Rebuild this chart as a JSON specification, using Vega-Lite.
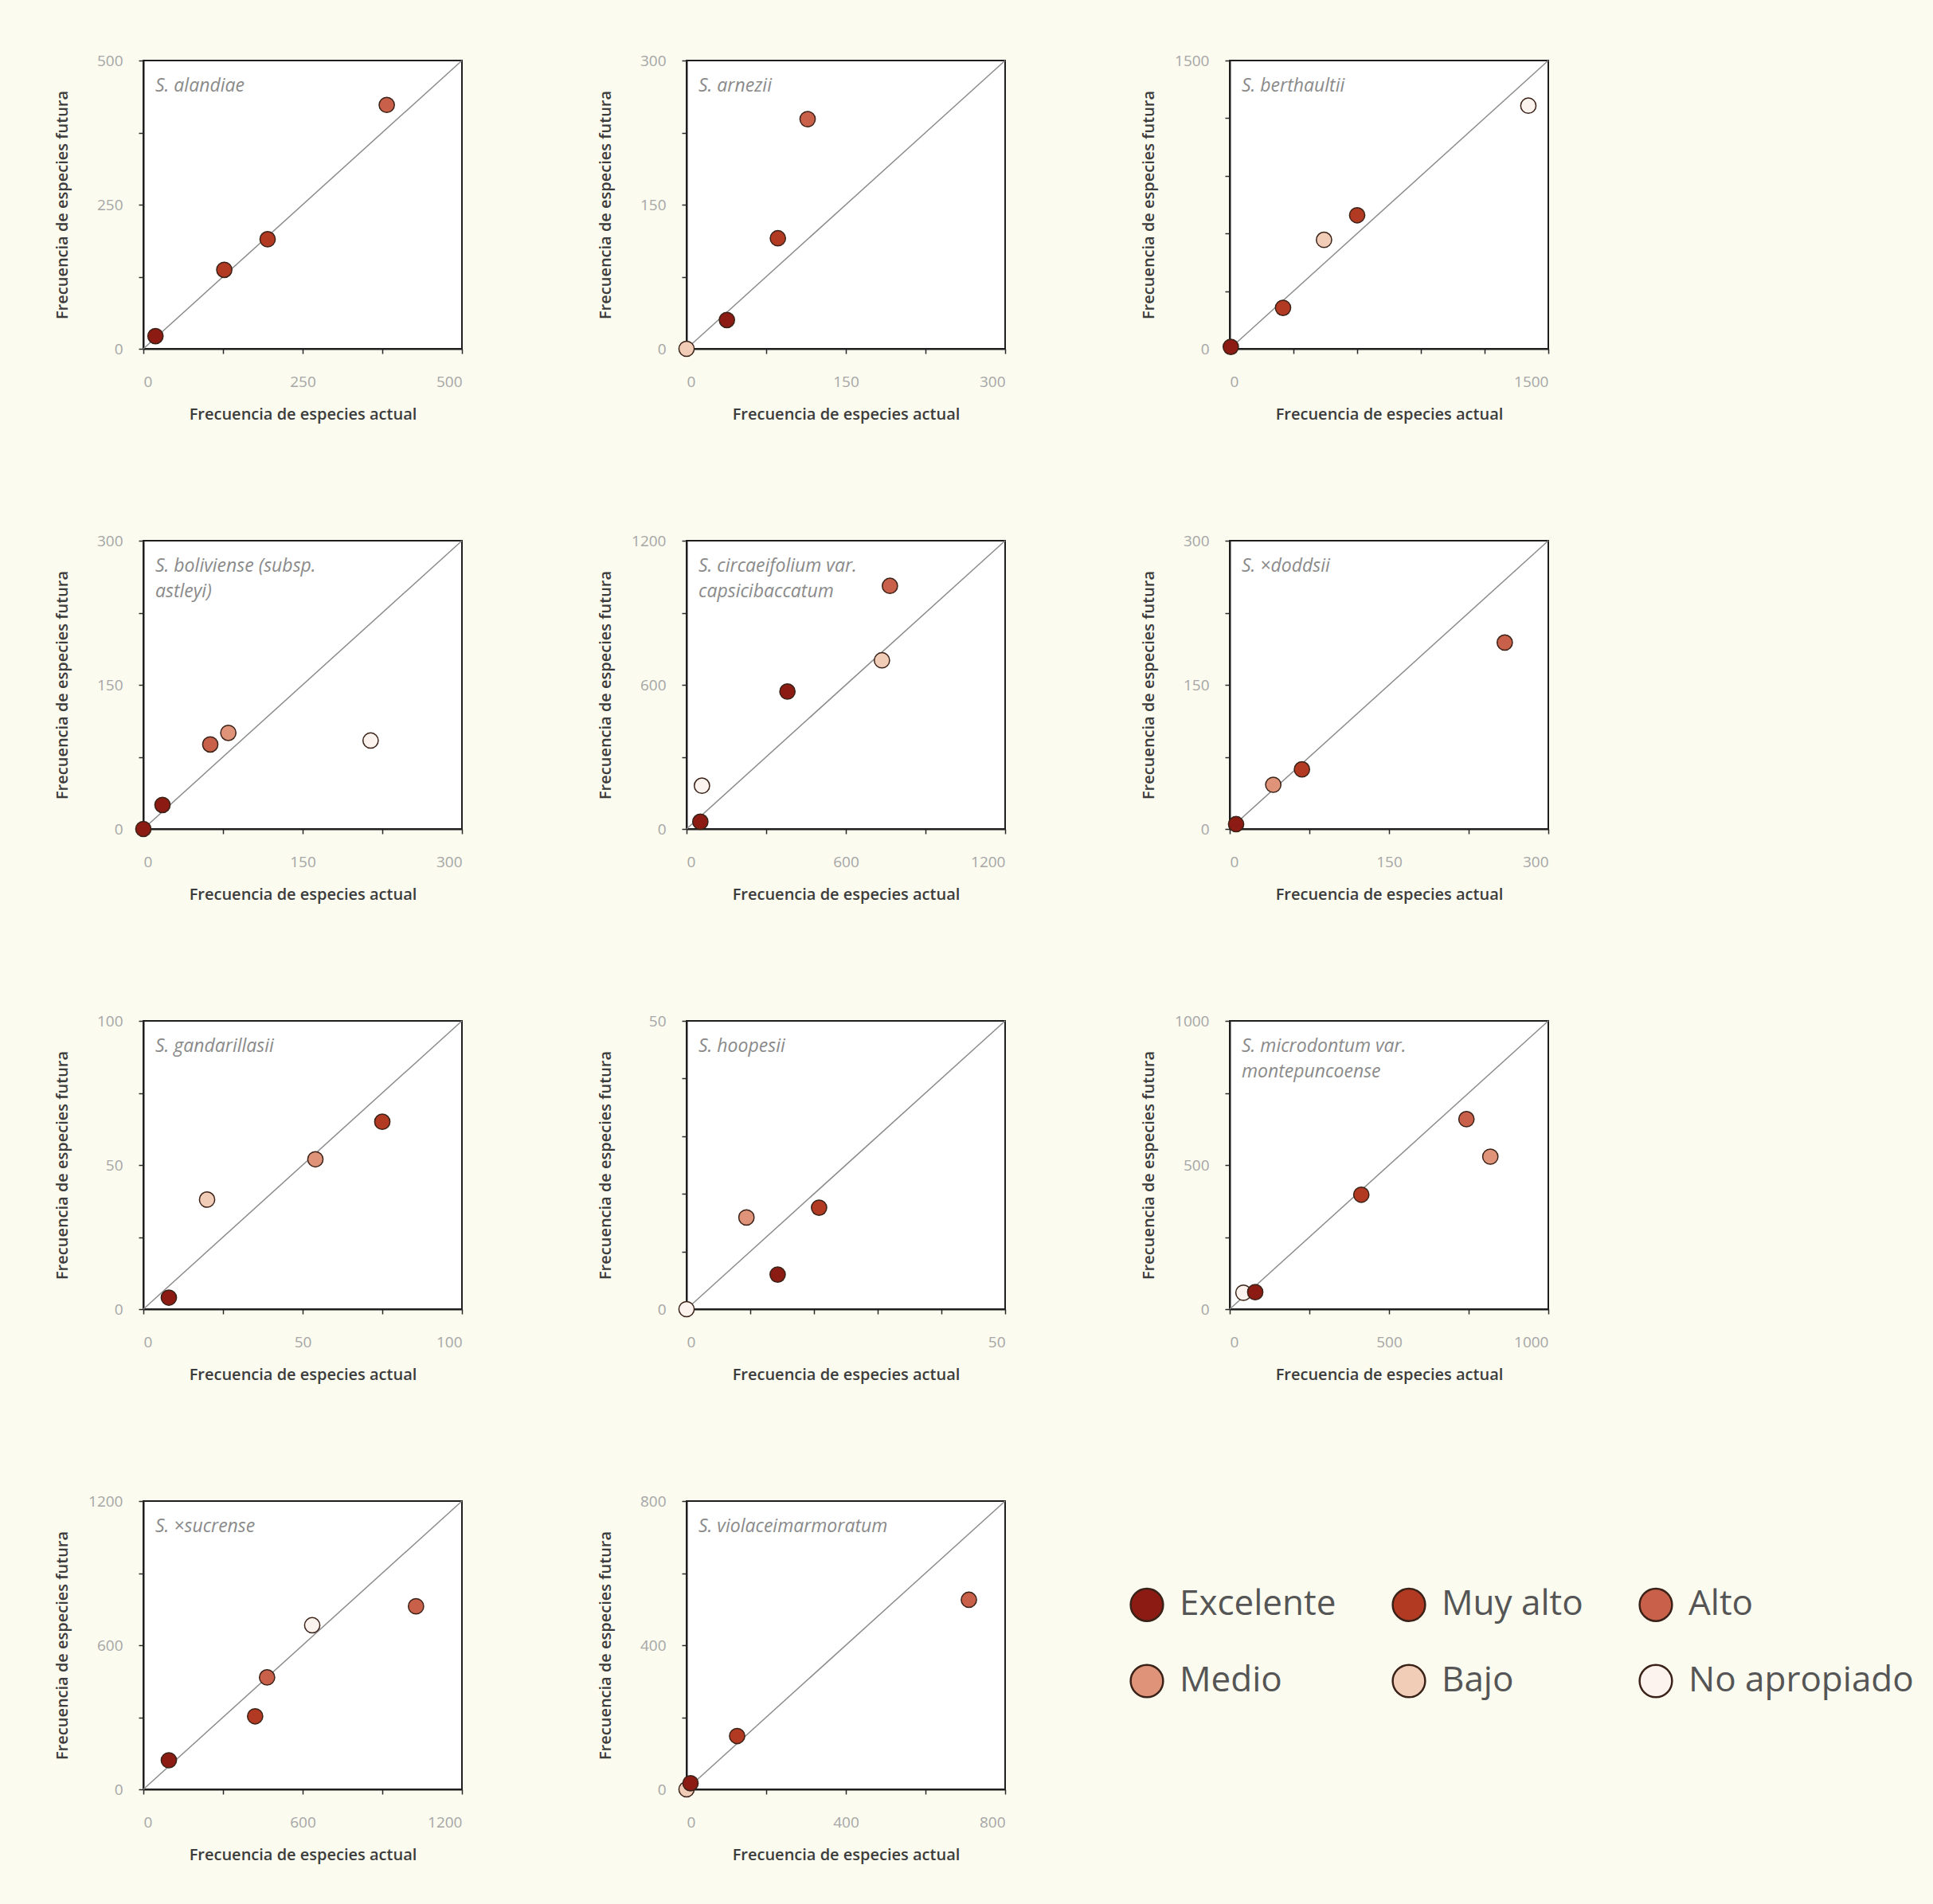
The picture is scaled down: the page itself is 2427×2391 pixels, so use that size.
{
  "$schema": "https://vega.github.io/schema/vega-lite/v6.json",
  "background": "#fbfbef",
  "padding": {"left": 66, "top": 66, "right": 25, "bottom": 54},
  "datasets": {
    "pts": [
      {"sp": "alandiae", "x": 19, "y": 22, "cat": "Excelente"},
      {"sp": "alandiae", "x": 127, "y": 137, "cat": "Muy alto"},
      {"sp": "alandiae", "x": 195, "y": 190, "cat": "Muy alto"},
      {"sp": "alandiae", "x": 382, "y": 423, "cat": "Alto"},
      {"sp": "arnezii", "x": 0, "y": 0, "cat": "Bajo"},
      {"sp": "arnezii", "x": 38, "y": 30, "cat": "Excelente"},
      {"sp": "arnezii", "x": 86, "y": 115, "cat": "Muy alto"},
      {"sp": "arnezii", "x": 114, "y": 239, "cat": "Alto"},
      {"sp": "berthaultii", "x": 5, "y": 10, "cat": "Excelente"},
      {"sp": "berthaultii", "x": 251, "y": 213, "cat": "Muy alto"},
      {"sp": "berthaultii", "x": 444, "y": 567, "cat": "Bajo"},
      {"sp": "berthaultii", "x": 600, "y": 695, "cat": "Muy alto"},
      {"sp": "berthaultii", "x": 1406, "y": 1265, "cat": "No apropiado"},
      {"sp": "boliviense", "x": 0, "y": 0, "cat": "Excelente"},
      {"sp": "boliviense", "x": 18, "y": 25, "cat": "Excelente"},
      {"sp": "boliviense", "x": 63, "y": 88, "cat": "Alto"},
      {"sp": "boliviense", "x": 80, "y": 100, "cat": "Medio"},
      {"sp": "boliviense", "x": 214, "y": 92, "cat": "No apropiado"},
      {"sp": "circaeifolium", "x": 52, "y": 30, "cat": "Excelente"},
      {"sp": "circaeifolium", "x": 58, "y": 180, "cat": "No apropiado"},
      {"sp": "circaeifolium", "x": 380, "y": 572, "cat": "Excelente"},
      {"sp": "circaeifolium", "x": 736, "y": 702, "cat": "Bajo"},
      {"sp": "circaeifolium", "x": 766, "y": 1012, "cat": "Alto"},
      {"sp": "doddsii", "x": 6, "y": 5, "cat": "Excelente"},
      {"sp": "doddsii", "x": 41, "y": 46, "cat": "Medio"},
      {"sp": "doddsii", "x": 68, "y": 62, "cat": "Muy alto"},
      {"sp": "doddsii", "x": 259, "y": 194, "cat": "Alto"},
      {"sp": "gandarillasii", "x": 8, "y": 4, "cat": "Excelente"},
      {"sp": "gandarillasii", "x": 20, "y": 38, "cat": "Bajo"},
      {"sp": "gandarillasii", "x": 54, "y": 52, "cat": "Medio"},
      {"sp": "gandarillasii", "x": 75, "y": 65, "cat": "Muy alto"},
      {"sp": "hoopesii", "x": 0, "y": 0, "cat": "No apropiado"},
      {"sp": "hoopesii", "x": 9.4, "y": 15.9, "cat": "Medio"},
      {"sp": "hoopesii", "x": 14.3, "y": 6, "cat": "Excelente"},
      {"sp": "hoopesii", "x": 20.8, "y": 17.6, "cat": "Muy alto"},
      {"sp": "microdontum", "x": 43, "y": 57, "cat": "No apropiado"},
      {"sp": "microdontum", "x": 80, "y": 59, "cat": "Excelente"},
      {"sp": "microdontum", "x": 413, "y": 397, "cat": "Muy alto"},
      {"sp": "microdontum", "x": 743, "y": 659, "cat": "Alto"},
      {"sp": "microdontum", "x": 818, "y": 529, "cat": "Medio"},
      {"sp": "sucrense", "x": 96, "y": 121, "cat": "Excelente"},
      {"sp": "sucrense", "x": 421, "y": 304, "cat": "Muy alto"},
      {"sp": "sucrense", "x": 466, "y": 466, "cat": "Alto"},
      {"sp": "sucrense", "x": 636, "y": 683, "cat": "No apropiado"},
      {"sp": "sucrense", "x": 1027, "y": 762, "cat": "Alto"},
      {"sp": "violaceimarmoratum", "x": 0, "y": 0, "cat": "Bajo"},
      {"sp": "violaceimarmoratum", "x": 10, "y": 17, "cat": "Excelente"},
      {"sp": "violaceimarmoratum", "x": 127, "y": 148, "cat": "Muy alto"},
      {"sp": "violaceimarmoratum", "x": 709, "y": 526, "cat": "Alto"}
    ],
    "diag": [
      {"sp": "alandiae", "x": 0, "y": 0, "x2": 500, "y2": 500},
      {"sp": "arnezii", "x": 0, "y": 0, "x2": 300, "y2": 300},
      {"sp": "berthaultii", "x": 0, "y": 0, "x2": 1500, "y2": 1500},
      {"sp": "boliviense", "x": 0, "y": 0, "x2": 300, "y2": 300},
      {"sp": "circaeifolium", "x": 0, "y": 0, "x2": 1200, "y2": 1200},
      {"sp": "doddsii", "x": 0, "y": 0, "x2": 300, "y2": 300},
      {"sp": "gandarillasii", "x": 0, "y": 0, "x2": 100, "y2": 100},
      {"sp": "hoopesii", "x": 0, "y": 0, "x2": 50, "y2": 50},
      {"sp": "microdontum", "x": 0, "y": 0, "x2": 1000, "y2": 1000},
      {"sp": "sucrense", "x": 0, "y": 0, "x2": 1200, "y2": 1200},
      {"sp": "violaceimarmoratum", "x": 0, "y": 0, "x2": 800, "y2": 800}
    ]
  },
  "columns": 3,
  "spacing": {"row": 138, "column": 166},
  "concat": [
    {
      "width": 400, "height": 362,
      "title": {"text": "S. alandiae", "dy": 57},
      "layer": [
        {"data": {"name": "diag"}, "transform": [{"filter": "datum.sp === 'alandiae'"}],
         "mark": {"type": "rule", "color": "#8c8c8c", "strokeWidth": 1.5},
         "encoding": {
           "x": {"field": "x", "type": "quantitative", "title": "Frecuencia de especies actual", "scale": {"domain": [0, 500], "nice": false}, "axis": {"values": [0, 125, 250, 375, 500], "format": "d", "labelExpr": "datum.value % 250 === 0 ? datum.label : ''"}},
           "y": {"field": "y", "type": "quantitative", "title": "Frecuencia de especies futura", "scale": {"domain": [0, 500], "nice": false}, "axis": {"values": [0, 125, 250, 375, 500], "format": "d", "labelExpr": "datum.value % 250 === 0 ? datum.label : ''"}},
           "x2": {"field": "x2"}, "y2": {"field": "y2"}}},
        {"data": {"name": "pts"}, "transform": [{"filter": "datum.sp === 'alandiae'"}],
         "mark": {"type": "point", "filled": true, "size": 370, "opacity": 1, "stroke": "#3a2218", "strokeWidth": 1.5},
         "encoding": {
           "x": {"field": "x", "type": "quantitative", "title": "Frecuencia de especies actual"},
           "y": {"field": "y", "type": "quantitative", "title": "Frecuencia de especies futura"},
           "fill": {"field": "cat", "type": "nominal", "scale": {"domain": ["Excelente", "Medio", "Muy alto", "Bajo", "Alto", "No apropiado"], "range": ["#8c1c13", "#df9479", "#b33a22", "#f1cdb8", "#c8604a", "#fcf3ee"]}, "legend": {"title": null, "orient": "none", "legendX": 1238, "legendY": 1917, "columns": 3, "symbolType": "circle", "symbolSize": 1660, "symbolStrokeColor": "#3a2a22", "symbolStrokeWidth": 2.5, "symbolOpacity": 1, "labelFontSize": 44, "labelFont": "Open Sans", "labelColor": "#555555", "labelOffset": 19, "columnPadding": 65, "rowPadding": 44, "padding": 0, "labelLimit": 400}}}}
      ]
    },
    {
      "width": 400, "height": 362,
      "title": {"text": "S. arnezii", "dy": 57},
      "layer": [
        {"data": {"name": "diag"}, "transform": [{"filter": "datum.sp === 'arnezii'"}],
         "mark": {"type": "rule", "color": "#8c8c8c", "strokeWidth": 1.5},
         "encoding": {
           "x": {"field": "x", "type": "quantitative", "title": "Frecuencia de especies actual", "scale": {"domain": [0, 300], "nice": false}, "axis": {"values": [0, 75, 150, 225, 300], "format": "d", "labelExpr": "datum.value % 150 === 0 ? datum.label : ''"}},
           "y": {"field": "y", "type": "quantitative", "title": "Frecuencia de especies futura", "scale": {"domain": [0, 300], "nice": false}, "axis": {"values": [0, 75, 150, 225, 300], "format": "d", "labelExpr": "datum.value % 150 === 0 ? datum.label : ''"}},
           "x2": {"field": "x2"}, "y2": {"field": "y2"}}},
        {"data": {"name": "pts"}, "transform": [{"filter": "datum.sp === 'arnezii'"}],
         "mark": {"type": "point", "filled": true, "size": 370, "opacity": 1, "stroke": "#3a2218", "strokeWidth": 1.5},
         "encoding": {
           "x": {"field": "x", "type": "quantitative", "title": "Frecuencia de especies actual"},
           "y": {"field": "y", "type": "quantitative", "title": "Frecuencia de especies futura"},
           "fill": {"field": "cat", "type": "nominal", "scale": {"domain": ["Excelente", "Medio", "Muy alto", "Bajo", "Alto", "No apropiado"], "range": ["#8c1c13", "#df9479", "#b33a22", "#f1cdb8", "#c8604a", "#fcf3ee"]}}}}
      ]
    },
    {
      "width": 400, "height": 362,
      "title": {"text": "S. berthaultii", "dy": 57},
      "layer": [
        {"data": {"name": "diag"}, "transform": [{"filter": "datum.sp === 'berthaultii'"}],
         "mark": {"type": "rule", "color": "#8c8c8c", "strokeWidth": 1.5},
         "encoding": {
           "x": {"field": "x", "type": "quantitative", "title": "Frecuencia de especies actual", "scale": {"domain": [0, 1500], "nice": false}, "axis": {"values": [0, 150, 300, 450, 600, 750, 900, 1050, 1200, 1350, 1500], "format": "d", "labelExpr": "datum.value % 750 === 0 ? datum.label : ''"}},
           "y": {"field": "y", "type": "quantitative", "title": "Frecuencia de especies futura", "scale": {"domain": [0, 1500], "nice": false}, "axis": {"values": [0, 150, 300, 450, 600, 750, 900, 1050, 1200, 1350, 1500], "format": "d", "labelExpr": "datum.value % 750 === 0 ? datum.label : ''"}},
           "x2": {"field": "x2"}, "y2": {"field": "y2"}}},
        {"data": {"name": "pts"}, "transform": [{"filter": "datum.sp === 'berthaultii'"}],
         "mark": {"type": "point", "filled": true, "size": 370, "opacity": 1, "stroke": "#3a2218", "strokeWidth": 1.5},
         "encoding": {
           "x": {"field": "x", "type": "quantitative", "title": "Frecuencia de especies actual"},
           "y": {"field": "y", "type": "quantitative", "title": "Frecuencia de especies futura"},
           "fill": {"field": "cat", "type": "nominal", "scale": {"domain": ["Excelente", "Medio", "Muy alto", "Bajo", "Alto", "No apropiado"], "range": ["#8c1c13", "#df9479", "#b33a22", "#f1cdb8", "#c8604a", "#fcf3ee"]}}}}
      ]
    },
    {
      "width": 400, "height": 362,
      "title": {"text": ["S. boliviense (subsp.", "astleyi)"], "dy": 89},
      "layer": [
        {"data": {"name": "diag"}, "transform": [{"filter": "datum.sp === 'boliviense'"}],
         "mark": {"type": "rule", "color": "#8c8c8c", "strokeWidth": 1.5},
         "encoding": {
           "x": {"field": "x", "type": "quantitative", "title": "Frecuencia de especies actual", "scale": {"domain": [0, 300], "nice": false}, "axis": {"values": [0, 75, 150, 225, 300], "format": "d", "labelExpr": "datum.value % 150 === 0 ? datum.label : ''"}},
           "y": {"field": "y", "type": "quantitative", "title": "Frecuencia de especies futura", "scale": {"domain": [0, 300], "nice": false}, "axis": {"values": [0, 75, 150, 225, 300], "format": "d", "labelExpr": "datum.value % 150 === 0 ? datum.label : ''"}},
           "x2": {"field": "x2"}, "y2": {"field": "y2"}}},
        {"data": {"name": "pts"}, "transform": [{"filter": "datum.sp === 'boliviense'"}],
         "mark": {"type": "point", "filled": true, "size": 370, "opacity": 1, "stroke": "#3a2218", "strokeWidth": 1.5},
         "encoding": {
           "x": {"field": "x", "type": "quantitative", "title": "Frecuencia de especies actual"},
           "y": {"field": "y", "type": "quantitative", "title": "Frecuencia de especies futura"},
           "fill": {"field": "cat", "type": "nominal", "scale": {"domain": ["Excelente", "Medio", "Muy alto", "Bajo", "Alto", "No apropiado"], "range": ["#8c1c13", "#df9479", "#b33a22", "#f1cdb8", "#c8604a", "#fcf3ee"]}}}}
      ]
    },
    {
      "width": 400, "height": 362,
      "title": {"text": ["S. circaeifolium var.", "capsicibaccatum"], "dy": 89},
      "layer": [
        {"data": {"name": "diag"}, "transform": [{"filter": "datum.sp === 'circaeifolium'"}],
         "mark": {"type": "rule", "color": "#8c8c8c", "strokeWidth": 1.5},
         "encoding": {
           "x": {"field": "x", "type": "quantitative", "title": "Frecuencia de especies actual", "scale": {"domain": [0, 1200], "nice": false}, "axis": {"values": [0, 300, 600, 900, 1200], "format": "d", "labelExpr": "datum.value % 600 === 0 ? datum.label : ''"}},
           "y": {"field": "y", "type": "quantitative", "title": "Frecuencia de especies futura", "scale": {"domain": [0, 1200], "nice": false}, "axis": {"values": [0, 300, 600, 900, 1200], "format": "d", "labelExpr": "datum.value % 600 === 0 ? datum.label : ''"}},
           "x2": {"field": "x2"}, "y2": {"field": "y2"}}},
        {"data": {"name": "pts"}, "transform": [{"filter": "datum.sp === 'circaeifolium'"}],
         "mark": {"type": "point", "filled": true, "size": 370, "opacity": 1, "stroke": "#3a2218", "strokeWidth": 1.5},
         "encoding": {
           "x": {"field": "x", "type": "quantitative", "title": "Frecuencia de especies actual"},
           "y": {"field": "y", "type": "quantitative", "title": "Frecuencia de especies futura"},
           "fill": {"field": "cat", "type": "nominal", "scale": {"domain": ["Excelente", "Medio", "Muy alto", "Bajo", "Alto", "No apropiado"], "range": ["#8c1c13", "#df9479", "#b33a22", "#f1cdb8", "#c8604a", "#fcf3ee"]}}}}
      ]
    },
    {
      "width": 400, "height": 362,
      "title": {"text": "S. ×doddsii", "dy": 57},
      "layer": [
        {"data": {"name": "diag"}, "transform": [{"filter": "datum.sp === 'doddsii'"}],
         "mark": {"type": "rule", "color": "#8c8c8c", "strokeWidth": 1.5},
         "encoding": {
           "x": {"field": "x", "type": "quantitative", "title": "Frecuencia de especies actual", "scale": {"domain": [0, 300], "nice": false}, "axis": {"values": [0, 75, 150, 225, 300], "format": "d", "labelExpr": "datum.value % 150 === 0 ? datum.label : ''"}},
           "y": {"field": "y", "type": "quantitative", "title": "Frecuencia de especies futura", "scale": {"domain": [0, 300], "nice": false}, "axis": {"values": [0, 75, 150, 225, 300], "format": "d", "labelExpr": "datum.value % 150 === 0 ? datum.label : ''"}},
           "x2": {"field": "x2"}, "y2": {"field": "y2"}}},
        {"data": {"name": "pts"}, "transform": [{"filter": "datum.sp === 'doddsii'"}],
         "mark": {"type": "point", "filled": true, "size": 370, "opacity": 1, "stroke": "#3a2218", "strokeWidth": 1.5},
         "encoding": {
           "x": {"field": "x", "type": "quantitative", "title": "Frecuencia de especies actual"},
           "y": {"field": "y", "type": "quantitative", "title": "Frecuencia de especies futura"},
           "fill": {"field": "cat", "type": "nominal", "scale": {"domain": ["Excelente", "Medio", "Muy alto", "Bajo", "Alto", "No apropiado"], "range": ["#8c1c13", "#df9479", "#b33a22", "#f1cdb8", "#c8604a", "#fcf3ee"]}}}}
      ]
    },
    {
      "width": 400, "height": 362,
      "title": {"text": "S. gandarillasii", "dy": 57},
      "layer": [
        {"data": {"name": "diag"}, "transform": [{"filter": "datum.sp === 'gandarillasii'"}],
         "mark": {"type": "rule", "color": "#8c8c8c", "strokeWidth": 1.5},
         "encoding": {
           "x": {"field": "x", "type": "quantitative", "title": "Frecuencia de especies actual", "scale": {"domain": [0, 100], "nice": false}, "axis": {"values": [0, 25, 50, 75, 100], "format": "d", "labelExpr": "datum.value % 50 === 0 ? datum.label : ''"}},
           "y": {"field": "y", "type": "quantitative", "title": "Frecuencia de especies futura", "scale": {"domain": [0, 100], "nice": false}, "axis": {"values": [0, 25, 50, 75, 100], "format": "d", "labelExpr": "datum.value % 50 === 0 ? datum.label : ''"}},
           "x2": {"field": "x2"}, "y2": {"field": "y2"}}},
        {"data": {"name": "pts"}, "transform": [{"filter": "datum.sp === 'gandarillasii'"}],
         "mark": {"type": "point", "filled": true, "size": 370, "opacity": 1, "stroke": "#3a2218", "strokeWidth": 1.5},
         "encoding": {
           "x": {"field": "x", "type": "quantitative", "title": "Frecuencia de especies actual"},
           "y": {"field": "y", "type": "quantitative", "title": "Frecuencia de especies futura"},
           "fill": {"field": "cat", "type": "nominal", "scale": {"domain": ["Excelente", "Medio", "Muy alto", "Bajo", "Alto", "No apropiado"], "range": ["#8c1c13", "#df9479", "#b33a22", "#f1cdb8", "#c8604a", "#fcf3ee"]}}}}
      ]
    },
    {
      "width": 400, "height": 362,
      "title": {"text": "S. hoopesii", "dy": 57},
      "layer": [
        {"data": {"name": "diag"}, "transform": [{"filter": "datum.sp === 'hoopesii'"}],
         "mark": {"type": "rule", "color": "#8c8c8c", "strokeWidth": 1.5},
         "encoding": {
           "x": {"field": "x", "type": "quantitative", "title": "Frecuencia de especies actual", "scale": {"domain": [0, 50], "nice": false}, "axis": {"values": [0, 5, 10, 15, 20, 25, 30, 35, 40, 45, 50], "format": "d", "labelExpr": "datum.value % 25 === 0 ? datum.label : ''"}},
           "y": {"field": "y", "type": "quantitative", "title": "Frecuencia de especies futura", "scale": {"domain": [0, 50], "nice": false}, "axis": {"values": [0, 5, 10, 15, 20, 25, 30, 35, 40, 45, 50], "format": "d", "labelExpr": "datum.value % 25 === 0 ? datum.label : ''"}},
           "x2": {"field": "x2"}, "y2": {"field": "y2"}}},
        {"data": {"name": "pts"}, "transform": [{"filter": "datum.sp === 'hoopesii'"}],
         "mark": {"type": "point", "filled": true, "size": 370, "opacity": 1, "stroke": "#3a2218", "strokeWidth": 1.5},
         "encoding": {
           "x": {"field": "x", "type": "quantitative", "title": "Frecuencia de especies actual"},
           "y": {"field": "y", "type": "quantitative", "title": "Frecuencia de especies futura"},
           "fill": {"field": "cat", "type": "nominal", "scale": {"domain": ["Excelente", "Medio", "Muy alto", "Bajo", "Alto", "No apropiado"], "range": ["#8c1c13", "#df9479", "#b33a22", "#f1cdb8", "#c8604a", "#fcf3ee"]}}}}
      ]
    },
    {
      "width": 400, "height": 362,
      "title": {"text": ["S. microdontum var.", "montepuncoense"], "dy": 89},
      "layer": [
        {"data": {"name": "diag"}, "transform": [{"filter": "datum.sp === 'microdontum'"}],
         "mark": {"type": "rule", "color": "#8c8c8c", "strokeWidth": 1.5},
         "encoding": {
           "x": {"field": "x", "type": "quantitative", "title": "Frecuencia de especies actual", "scale": {"domain": [0, 1000], "nice": false}, "axis": {"values": [0, 250, 500, 750, 1000], "format": "d", "labelExpr": "datum.value % 500 === 0 ? datum.label : ''"}},
           "y": {"field": "y", "type": "quantitative", "title": "Frecuencia de especies futura", "scale": {"domain": [0, 1000], "nice": false}, "axis": {"values": [0, 250, 500, 750, 1000], "format": "d", "labelExpr": "datum.value % 500 === 0 ? datum.label : ''"}},
           "x2": {"field": "x2"}, "y2": {"field": "y2"}}},
        {"data": {"name": "pts"}, "transform": [{"filter": "datum.sp === 'microdontum'"}],
         "mark": {"type": "point", "filled": true, "size": 370, "opacity": 1, "stroke": "#3a2218", "strokeWidth": 1.5},
         "encoding": {
           "x": {"field": "x", "type": "quantitative", "title": "Frecuencia de especies actual"},
           "y": {"field": "y", "type": "quantitative", "title": "Frecuencia de especies futura"},
           "fill": {"field": "cat", "type": "nominal", "scale": {"domain": ["Excelente", "Medio", "Muy alto", "Bajo", "Alto", "No apropiado"], "range": ["#8c1c13", "#df9479", "#b33a22", "#f1cdb8", "#c8604a", "#fcf3ee"]}}}}
      ]
    },
    {
      "width": 400, "height": 362,
      "title": {"text": "S. ×sucrense", "dy": 57},
      "layer": [
        {"data": {"name": "diag"}, "transform": [{"filter": "datum.sp === 'sucrense'"}],
         "mark": {"type": "rule", "color": "#8c8c8c", "strokeWidth": 1.5},
         "encoding": {
           "x": {"field": "x", "type": "quantitative", "title": "Frecuencia de especies actual", "scale": {"domain": [0, 1200], "nice": false}, "axis": {"values": [0, 300, 600, 900, 1200], "format": "d", "labelExpr": "datum.value % 600 === 0 ? datum.label : ''"}},
           "y": {"field": "y", "type": "quantitative", "title": "Frecuencia de especies futura", "scale": {"domain": [0, 1200], "nice": false}, "axis": {"values": [0, 300, 600, 900, 1200], "format": "d", "labelExpr": "datum.value % 600 === 0 ? datum.label : ''"}},
           "x2": {"field": "x2"}, "y2": {"field": "y2"}}},
        {"data": {"name": "pts"}, "transform": [{"filter": "datum.sp === 'sucrense'"}],
         "mark": {"type": "point", "filled": true, "size": 370, "opacity": 1, "stroke": "#3a2218", "strokeWidth": 1.5},
         "encoding": {
           "x": {"field": "x", "type": "quantitative", "title": "Frecuencia de especies actual"},
           "y": {"field": "y", "type": "quantitative", "title": "Frecuencia de especies futura"},
           "fill": {"field": "cat", "type": "nominal", "scale": {"domain": ["Excelente", "Medio", "Muy alto", "Bajo", "Alto", "No apropiado"], "range": ["#8c1c13", "#df9479", "#b33a22", "#f1cdb8", "#c8604a", "#fcf3ee"]}}}}
      ]
    },
    {
      "width": 400, "height": 362,
      "title": {"text": "S. violaceimarmoratum", "dy": 57},
      "layer": [
        {"data": {"name": "diag"}, "transform": [{"filter": "datum.sp === 'violaceimarmoratum'"}],
         "mark": {"type": "rule", "color": "#8c8c8c", "strokeWidth": 1.5},
         "encoding": {
           "x": {"field": "x", "type": "quantitative", "title": "Frecuencia de especies actual", "scale": {"domain": [0, 800], "nice": false}, "axis": {"values": [0, 200, 400, 600, 800], "format": "d", "labelExpr": "datum.value % 400 === 0 ? datum.label : ''"}},
           "y": {"field": "y", "type": "quantitative", "title": "Frecuencia de especies futura", "scale": {"domain": [0, 800], "nice": false}, "axis": {"values": [0, 200, 400, 600, 800], "format": "d", "labelExpr": "datum.value % 400 === 0 ? datum.label : ''"}},
           "x2": {"field": "x2"}, "y2": {"field": "y2"}}},
        {"data": {"name": "pts"}, "transform": [{"filter": "datum.sp === 'violaceimarmoratum'"}],
         "mark": {"type": "point", "filled": true, "size": 370, "opacity": 1, "stroke": "#3a2218", "strokeWidth": 1.5},
         "encoding": {
           "x": {"field": "x", "type": "quantitative", "title": "Frecuencia de especies actual"},
           "y": {"field": "y", "type": "quantitative", "title": "Frecuencia de especies futura"},
           "fill": {"field": "cat", "type": "nominal", "scale": {"domain": ["Excelente", "Medio", "Muy alto", "Bajo", "Alto", "No apropiado"], "range": ["#8c1c13", "#df9479", "#b33a22", "#f1cdb8", "#c8604a", "#fcf3ee"]}}}}
      ]
    }
  ],
  "config": {
    "font": "Open Sans",
    "view": {"stroke": "#1e1e1e", "strokeWidth": 2, "fill": "#ffffff"},
    "axis": {
      "grid": false,
      "domainColor": "#1e1e1e", "domainWidth": 2,
      "tickColor": "#2a2a2a", "tickWidth": 1.5, "tickSize": 6,
      "labelColor": "#a6a6a6", "labelFontSize": 19, "labelFont": "Open Sans",
      "titleColor": "#3c3c3c", "titleFontSize": 20, "titleFontWeight": 600, "titleFont": "Open Sans"
    },
    "axisX": {"labelPadding": 26, "titleY": 82, "titleBaseline": "middle"},
    "axisY": {"labelPadding": 20, "titleX": -102, "titleBaseline": "middle"},
    "title": {
      "font": "Open Sans", "fontStyle": "italic", "fontWeight": "normal", "fontSize": 23,
      "color": "#8a8a8a", "anchor": "start", "frame": "group", "baseline": "top",
      "offset": 0, "dx": 15, "lineHeight": 32
    }
  }
}
